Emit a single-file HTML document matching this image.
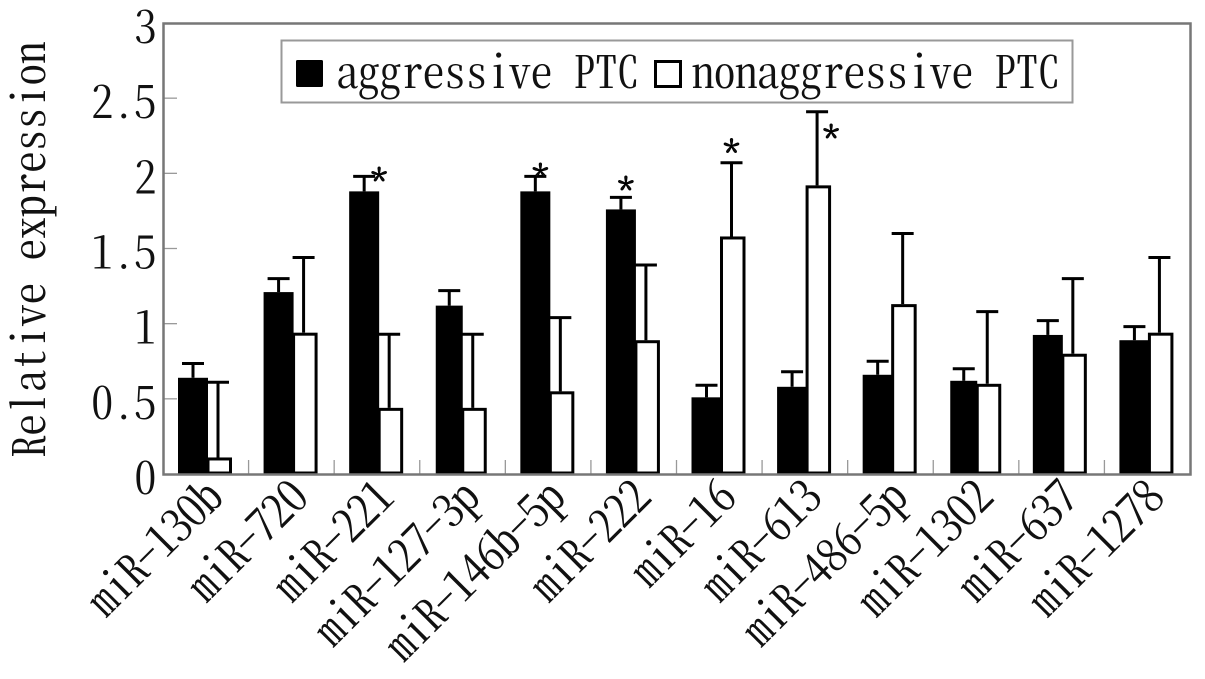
<!DOCTYPE html>
<html lang="en">
<head>
<meta charset="utf-8">
<title>Relative expression of miRNAs</title>
<style>
html,body{margin:0;padding:0;background:#fff;width:1205px;height:679px;overflow:hidden}
svg{display:block}
text{font-family:"Noto Serif CJK SC","Liberation Serif",serif;font-feature-settings:"hwid" 1;fill:#111;font-size:44px;letter-spacing:-0.4px}
</style>
</head>
<body>
<svg id="chart" xmlns="http://www.w3.org/2000/svg" width="1205" height="679" viewBox="0 0 1205 679">
  <rect x="0" y="0" width="1205" height="679" fill="#ffffff"/>
  <g id="ticks"></g>
  <g id="bars"></g>
  <rect x="163.5" y="23.5" width="1027" height="451" fill="none" stroke="#777" stroke-width="2.5"/>
  <g id="labels"></g>
  <text style="letter-spacing:-0.1px" transform="translate(45,458) rotate(-90)">Relative expression</text>
  <g>
    <rect x="281.5" y="40.5" width="791" height="62" fill="#fff" stroke="#999" stroke-width="2"/>
    <rect x="296" y="60" width="27" height="27" rx="1.5" fill="#000"/>
    <text x="336" y="88">aggressive PTC</text>
    <rect x="655.5" y="61.5" width="25" height="25" fill="#fff" stroke="#000" stroke-width="3"/>
    <text x="692" y="88">nonaggressive PTC</text>
  </g>
</svg>
<script>
const categories = ["miR-130b","miR-720","miR-221","miR-127-3p","miR-146b-5p","miR-222","miR-16","miR-613","miR-486-5p","miR-1302","miR-637","miR-1278"];
const aggressive = [0.64,1.21,1.88,1.12,1.88,1.76,0.51,0.58,0.66,0.62,0.925,0.89];
const nonaggressive = [0.11,0.94,0.44,0.44,0.55,0.89,1.58,1.92,1.13,0.60,0.80,0.94];
const aggressiveError = [0.095,0.09,0.10,0.10,0.10,0.08,0.08,0.10,0.09,0.08,0.095,0.09];
const nonaggressiveError = [0.50,0.50,0.49,0.49,0.49,0.50,0.49,0.49,0.47,0.48,0.50,0.50];
const yTicks = [0,0.5,1,1.5,2,2.5,3];
const yTickLabels = ["0","0.5","1","1.5","2","2.5","3"];

const plotLeft = 163, plotRight = 1190, plotTop = 23, plotBottom = 474, yMax = 3;
const NS = "http://www.w3.org/2000/svg";
const yScale = v => plotBottom - (v / yMax) * (plotBottom - plotTop);
const bandWidth = (plotRight - plotLeft) / categories.length;
const bandLeft = i => plotLeft + bandWidth * i;
const blackX = i => bandLeft(i) + 15 + (i === 9 ? 2 : i === 3 ? 1 : i === 10 ? -1 : 0);
const blackW = i => (i === 3 || i === 9) ? 27 : 30;
const whiteW = 24;
const make = (tag, parent) => { const el = document.createElementNS(NS, tag); parent.appendChild(el); return el; };
const setAll = (el, props) => { Object.keys(props).forEach(k => el.setAttribute(k, props[k])); };

const ticksG = document.getElementById("ticks");
const barsG = document.getElementById("bars");
const labelsG = document.getElementById("labels");

yTicks.forEach((t, k) => {
  const y = yScale(t);
  if (k > 0 && k < yTicks.length - 1) {
    const tick = make("line", ticksG);
    
    
    setAll(tick, {x1: plotLeft, x2: plotLeft + 14, y1: y, y2: y, stroke: "#999", "stroke-width": 1.3});
  }
  const lab = make("text", labelsG);
  
  
  setAll(lab, {x: 156, y: y + 20, "text-anchor": "end"});
  lab.textContent = yTickLabels[k];
});

categories.forEach((name, i) => {
  if (i > 0) {
    const tick = make("line", ticksG);
    
    
    setAll(tick, {x1: bandLeft(i), x2: bandLeft(i), y1: plotBottom, y2: plotBottom - 14, stroke: "#999", "stroke-width": 1.3});
  }

  const bx = blackX(i), bw = blackW(i), wx = bx + bw;
  const by = yScale(aggressive[i]), wy = yScale(nonaggressive[i]);
  const bt = yScale(aggressive[i] + aggressiveError[i]);
  const wt = yScale(nonaggressive[i] + nonaggressiveError[i]);
  const bc = bx + bw / 2, wc = wx + whiteW / 2 - 2;

  const black = make("rect", barsG);
  
  
  setAll(black, {x: bx, y: by, width: bw, height: plotBottom - by, fill: "#000"});

  const white = make("rect", barsG);
  
  
  setAll(white, {x: wx, y: wy + 1.5, width: whiteW - 1.5, height: plotBottom - wy - 2.5, fill: "#fff", stroke: "#000", "stroke-width": 3});

  const stemB = make("line", barsG);
  
  
  setAll(stemB, {x1: bc, x2: bc, y1: by, y2: bt, stroke: "#000", "stroke-width": 3});

  const capB = make("line", barsG);
  
  
  setAll(capB, {x1: bc - 11, x2: bc + 11, y1: bt, y2: bt, stroke: "#000", "stroke-width": 3});

  const stemW = make("line", barsG);
  
  
  setAll(stemW, {x1: wc, x2: wc, y1: wy, y2: wt, stroke: "#000", "stroke-width": 3});

  const capW = make("line", barsG);
  
  
  setAll(capW, {x1: wc - 11, x2: wc + 11, y1: wt, y2: wt, stroke: "#000", "stroke-width": 3});

  const lab = make("text", labelsG);
  
  
  const ax = bandLeft(i) + bandWidth / 2 + 19, ay = 500;
  setAll(lab, {"text-anchor": "end", style: "letter-spacing:-1px", transform: "translate(" + ax + "," + ay + ") rotate(-45)"});
  lab.textContent = name;
});

function drawStar(i, top, dx, dy) {
  const star = make("text", labelsG);
  
  
  setAll(star, {x: bandLeft(i) + dx, y: yScale(top) + dy, "text-anchor": "middle", style: "font-size:33px;letter-spacing:0;stroke:#000;stroke-width:1"});
  star.textContent = "*";
}
drawStar(2, aggressive[2] + aggressiveError[2], 45, 18);
drawStar(4, aggressive[4] + aggressiveError[4], 35, 14);
drawStar(5, aggressive[5] + aggressiveError[5], 35, 6);
drawStar(6, nonaggressive[6] + nonaggressiveError[6], 55, 3);
drawStar(7, nonaggressive[7] + nonaggressiveError[7], 69, 40);
</script>
</body>
</html>
